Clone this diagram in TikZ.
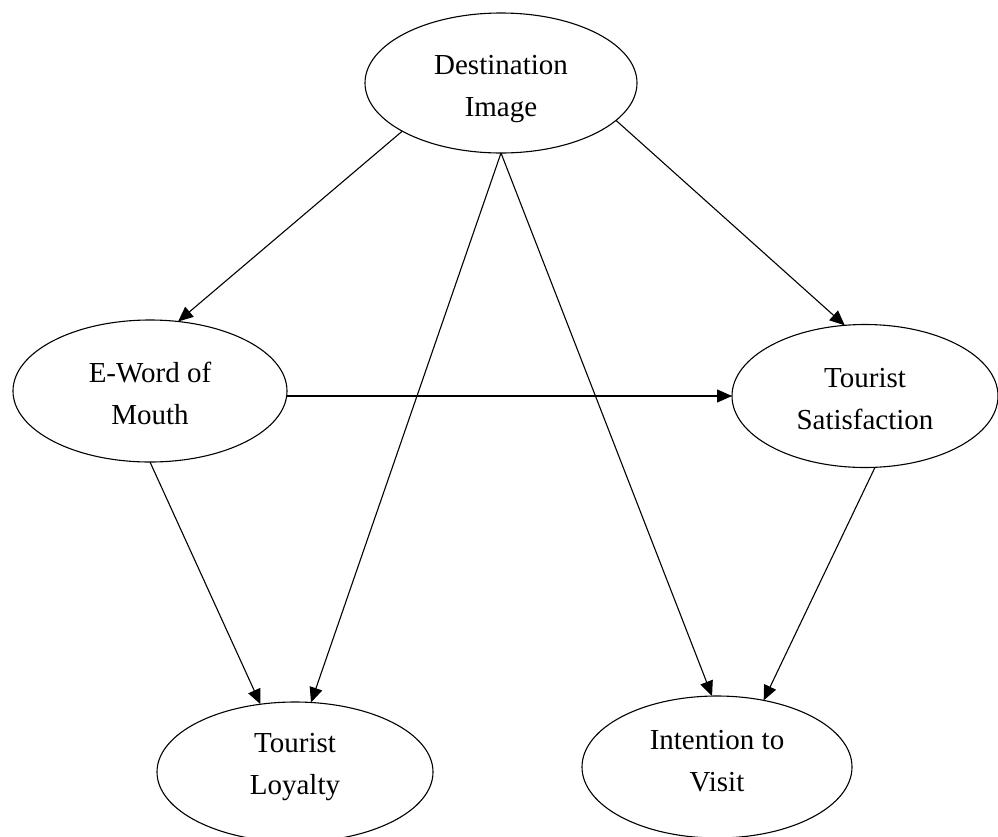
\documentclass[tikz,border=0pt]{standalone}
\usepackage{fontspec}
\setmainfont{Liberation Serif}
\usetikzlibrary{arrows.meta,shapes.geometric}
\begin{document}
\begin{tikzpicture}[x=1pt,y=-1pt,
  latent/.style={ellipse,draw,line width=1.1pt,inner sep=0pt,outer sep=0pt},
  txt/.style={align=center,inner sep=0pt,font=\fontsize{29}{42}\selectfont},
  arr/.style={-{Triangle[length=15pt,width=13pt]},line width=1.1pt}]
\clip (0,0) rectangle (998,836);
\node[latent,minimum width=272pt,minimum height=140pt] (di) at (501,83) {};
\node[latent,minimum width=274pt,minimum height=142pt] (ew) at (150,391) {};
\node[latent,minimum width=266pt,minimum height=143pt] (ts) at (865,396) {};
\node[latent,minimum width=276pt,minimum height=140pt] (tl) at (295,772) {};
\node[latent,minimum width=270pt,minimum height=142pt] (iv) at (717,767) {};
\node[txt] (di-t) at ([yshift=-6.5pt]di.center) {Destination\\Image};
\node[txt] (ew-t) at ([yshift=-2pt]ew.center) {E-Word of\\Mouth};
\node[txt] (ts-t) at ([yshift=-3pt]ts.center) {Tourist\\Satisfaction};
\node[txt] (tl-t) at ([yshift=5pt]tl.center) {Tourist\\Loyalty};
\node[txt] (iv-t) at ([yshift=6pt]iv.center) {Intention to\\Visit};
\draw[arr] (di.206) -- (ew.68.5);
\draw[arr] (di.342) -- (ts.106);
\draw[arr] (di.south) -- (tl.77);
\draw[arr] (di.south) -- (iv.94);
\draw[arr] (ew.east |- ts.west) -- (ts.west);
\draw[arr] (ew.south) -- (tl.117);
\draw[arr] (ts.278) -- (iv.55);
\end{tikzpicture}
\end{document}
